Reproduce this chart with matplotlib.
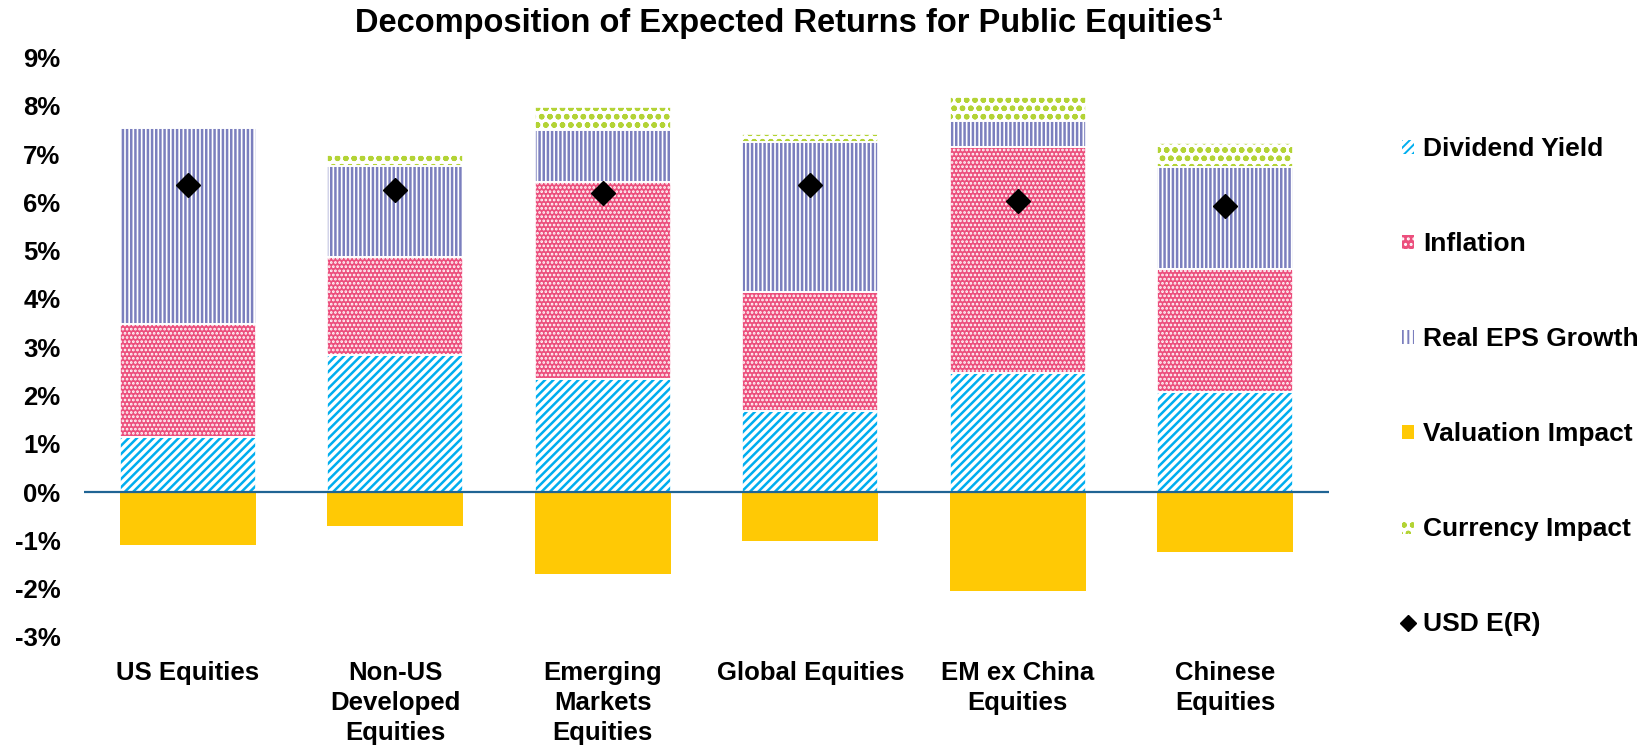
import matplotlib
matplotlib.use("Agg")
import matplotlib.pyplot as plt
from matplotlib.patches import Patch
from matplotlib.lines import Line2D
import numpy as np

plt.rcParams['font.family'] = ['Liberation Sans', 'DejaVu Sans']
plt.rcParams['font.weight'] = 'bold'
plt.rcParams['hatch.linewidth'] = 1.4

categories = ["US Equities", "Non-US\nDeveloped\nEquities", "Emerging\nMarkets\nEquities",
              "Global Equities", "EM ex China\nEquities", "Chinese\nEquities"]
dividend_yield = [1.14, 2.83, 2.35, 1.68, 2.46, 2.07]
inflation = [2.34, 2.04, 4.07, 2.46, 4.69, 2.55]
real_eps_growth = [4.06, 1.89, 1.07, 3.11, 0.54, 2.11]
currency_impact = [0.00, 0.23, 0.48, 0.17, 0.49, 0.50]
valuation_impact = [-1.10, -0.71, -1.70, -1.01, -2.05, -1.25]
usd_er = [6.37, 6.25, 6.19, 6.36, 6.02, 5.93]
yticks = [-3, -2, -1, 0, 1, 2, 3, 4, 5, 6, 7, 8, 9]

C_DIV = '#00aeef'
C_INF = '#ec4f7d'
C_EPS = '#7b7fbe'
C_VAL = '#ffc905'
C_CUR = '#b3d335'


def set_hlw(container, lw):
    for p in container:
        if hasattr(p, 'set_hatch_linewidth'):
            p.set_hatch_linewidth(lw)


fig = plt.figure(figsize=(16.5, 7.45), dpi=100)
ax = fig.add_axes([0.0509, 0.145, 0.7545, 0.7778])

x = np.arange(len(categories))
w = 0.655
div = np.array(dividend_yield)
inf = np.array(inflation)
eps = np.array(real_eps_growth)
cur = np.array(currency_impact)
val = np.array(valuation_impact)

b1 = np.zeros(len(x))
b2 = b1 + div
b3 = b2 + inf
b4 = b3 + eps

r = ax.bar(x, div, w, bottom=b1, facecolor='white', edgecolor=C_DIV, hatch='////', linewidth=0)
set_hlw(r, 1.8)
r = ax.bar(x, inf, w, bottom=b2, facecolor=C_INF, edgecolor='white', hatch='....', linewidth=0)
set_hlw(r, 1.3)
r = ax.bar(x, eps, w, bottom=b3, facecolor='white', edgecolor=C_EPS, hatch='||||', linewidth=0)
set_hlw(r, 1.8)
r = ax.bar(x, cur, w, bottom=b4, facecolor='white', edgecolor=C_CUR, hatch='oo', linewidth=0)
set_hlw(r, 1.6)
ax.bar(x, val, w, facecolor=C_VAL, edgecolor='none', linewidth=0)
# thin white separators between segments
for h, b in [(div, b1), (inf, b2), (eps, b3), (cur, b4)]:
    ax.bar(x, h, w, bottom=b, fill=False, edgecolor='white', linewidth=1.2)

ax.plot(x, usd_er, linestyle='none', marker='D', markersize=12.5, color='black', zorder=5)
ax.axhline(0, color='#1f6494', linewidth=1.6, zorder=4)

ax.set_xlim(-0.5, len(x) - 0.5)
ax.set_ylim(-3, 9)
ax.set_yticks(yticks)
ax.set_yticklabels([f"{t}%" for t in yticks], fontsize=18.5, fontweight='bold')
ax.set_xticks(x)
ax.set_xticklabels(categories, fontsize=18.5, fontweight='bold', linespacing=1.33)
ax.tick_params(axis='both', length=0)
ax.tick_params(axis='y', pad=17)
ax.tick_params(axis='x', pad=17)
for s in ax.spines.values():
    s.set_visible(False)

fig.text(0.478, 0.969, "Decomposition of Expected Returns for Public Equities\u00b9",
         fontsize=23.5, fontweight='bold', ha='center', va='center')

handles = [
    Patch(facecolor='white', edgecolor=C_DIV, hatch='////', linewidth=0, label='Dividend Yield'),
    Patch(facecolor=C_INF, edgecolor='white', hatch='...', linewidth=0, label='Inflation'),
    Patch(facecolor='white', edgecolor=C_EPS, hatch='|||', linewidth=0, label='Real EPS Growth'),
    Patch(facecolor=C_VAL, edgecolor='none', linewidth=0, label='Valuation Impact'),
    Patch(facecolor='white', edgecolor=C_CUR, hatch='oo', linewidth=0, label='Currency Impact'),
    Line2D([], [], linestyle='none', marker='D', markersize=8, color='black', label='USD E(R)'),
]
fig.legend(handles=handles, loc='center left', bbox_to_anchor=(0.8497, 0.481),
           frameon=False, handlelength=0.45, handleheight=0.45,
           handletextpad=0.35, labelspacing=2.69, borderpad=0, borderaxespad=0,
           prop={'weight': 'bold', 'size': 19})

fig.savefig('out.png', dpi=100)
